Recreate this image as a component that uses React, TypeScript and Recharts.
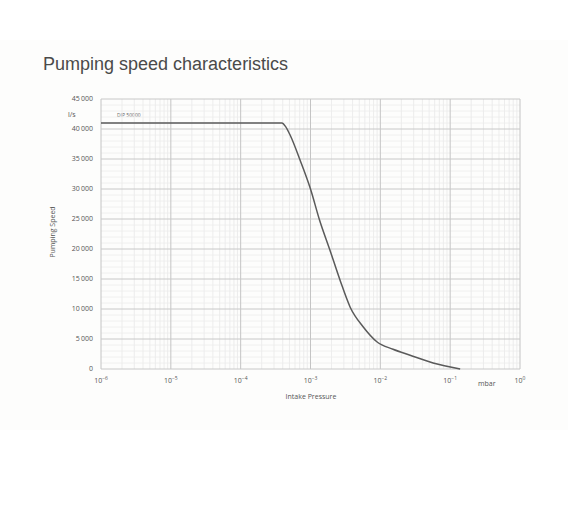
import { LineChart, Line, XAxis, YAxis, ReferenceLine } from "recharts"

// intake pressure in mbar, pumping speed in l/s
const pressure = [
  1e-6, 3.9e-4, 4.4e-4, 5.1e-4, 7.1e-4, 1.0e-3, 1.35e-3, 1.9e-3, 2.65e-3,
  3.7e-3, 5.7e-3, 9e-3, 1.52e-2, 2.67e-2, 5.7e-2, 1.39e-1,
]
const speed = [
  41000, 41000, 40400, 39000, 34800, 30000, 24800, 19800, 14800,
  10300, 7000, 4500, 3300, 2300, 1000, 0,
]

const decadeTicks = [1e-6, 1e-5, 1e-4, 1e-3, 1e-2, 1e-1, 1]
const speedTicks = [0, 5000, 10000, 15000, 20000, 25000, 30000, 35000, 40000, 45000]

const minorX: number[] = []
for (let d = -6; d < 0; d++) {
  for (let m = 2; m <= 9; m++) minorX.push(m * Math.pow(10, d))
}
const minorY: number[] = []
for (let v = 1000; v < 45000; v += 1000) {
  if (v % 5000 !== 0) minorY.push(v)
}

const data = pressure.map((p, i) => ({ p, s: speed[i] }))

const font = "'Open Sans', 'DejaVu Sans', sans-serif"

const fmt = (v: number) =>
  v >= 1000 ? `${Math.floor(v / 1000)}\u2009${String(v % 1000).padStart(3, "0")}` : String(v)

function PowerTick(props: any) {
  const { x, y, payload } = props
  const exp = Math.round(Math.log10(payload.value))
  return (
    <text x={x} y={y + 6} textAnchor="middle" fontFamily={font} fontSize={7} fill="#555">
      <tspan>10</tspan>
      <tspan dy={-3} fontSize={5}>{exp === 0 ? "0" : `\u2212${-exp}`}</tspan>
    </text>
  )
}

export default function App() {
  return (
    <div style={{ position: "absolute", left: 0, top: 0, width: 568, height: 518, background: "#fff" }}>
      <div style={{ position: "absolute", left: 0, top: 40, width: 568, height: 390, background: "#fdfdfc" }} />
      <div
        style={{
          position: "absolute",
          left: 43,
          top: 54,
          fontFamily: "'Liberation Sans', Arial, sans-serif",
          fontSize: 18,
          color: "#4a4a4a",
          whiteSpace: "nowrap",
        }}
      >
        Pumping speed characteristics
      </div>
      <div style={{ position: "absolute", left: 0, top: 0 }}>
        <LineChart width={568} height={518} data={data} margin={{ top: 99, right: 48, left: 41, bottom: 119 }}>
          {minorX.map((v) => (
            <ReferenceLine key={"mx" + v} x={v} stroke="#e9e9e9" strokeWidth={0.8} />
          ))}
          {minorY.map((v) => (
            <ReferenceLine key={"my" + v} y={v} stroke="#ececec" strokeWidth={0.8} />
          ))}
          {decadeTicks.map((v) => (
            <ReferenceLine key={"MX" + v} x={v} stroke="#c4c4c4" strokeWidth={1} />
          ))}
          {speedTicks.map((v) => (
            <ReferenceLine key={"MY" + v} y={v} stroke="#c8c8c8" strokeWidth={1} />
          ))}
          <XAxis
            dataKey="p"
            type="number"
            scale="log"
            domain={[1e-6, 1]}
            ticks={decadeTicks}
            allowDataOverflow
            axisLine={false}
            tickLine={false}
            height={30}
            tick={<PowerTick />}
            interval={0}
          />
          <YAxis
            type="number"
            domain={[0, 45000]}
            ticks={speedTicks}
            axisLine={false}
            tickLine={false}
            width={60}
            interval={0}
            tickFormatter={fmt}
            tick={{ fontSize: 7, fill: "#555", fontFamily: font }}
          />
          <Line
            dataKey="s"
            type="monotone"
            stroke="#5a5a5a"
            strokeWidth={1.5}
            dot={false}
            isAnimationActive={false}
          />
          <text x={117} y={117} fontFamily={font} fontSize={5} fill="#666">DIP 50000</text>
          <text x={68} y={117} fontFamily={font} fontSize={7} fill="#555">l/s</text>
          <text x={478} y={386} fontFamily={font} fontSize={7} fill="#555">mbar</text>
          <text x={311} y={399} textAnchor="middle" fontFamily={font} fontSize={7} fill="#555">Intake Pressure</text>
          <text
            x={55}
            y={232}
            textAnchor="middle"
            fontFamily={font}
            fontSize={7}
            fill="#555"
            transform="rotate(-90 55 232)"
          >
            Pumping Speed
          </text>
        </LineChart>
      </div>
    </div>
  )
}
